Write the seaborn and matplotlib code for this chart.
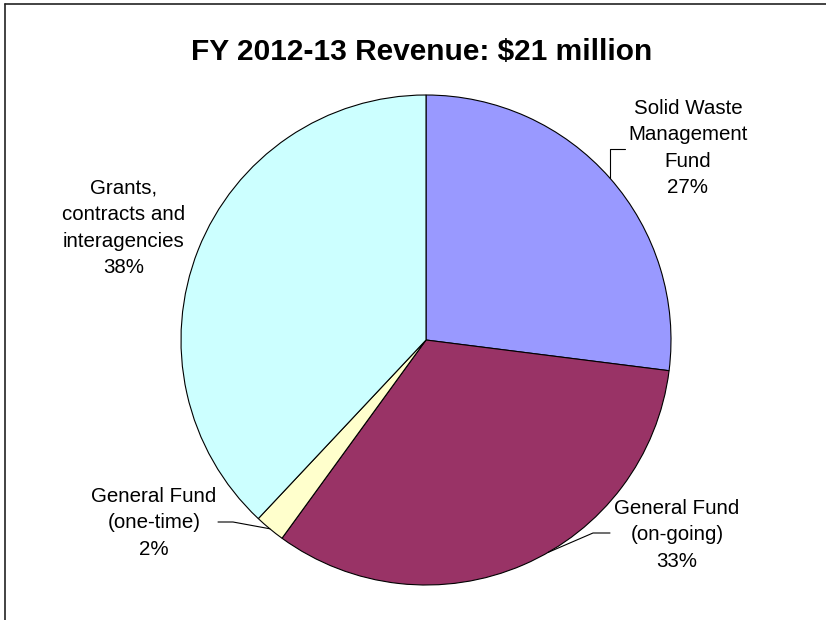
import numpy as np
import matplotlib
matplotlib.use("Agg")
import matplotlib.pyplot as plt
from matplotlib.lines import Line2D
import seaborn as sns

# Revenue shares, clockwise from 12 o'clock
labels = ["Solid Waste\nManagement\nFund", "General Fund\n(on-going)",
          "General Fund\n(one-time)", "Grants,\ncontracts and\ninteragencies"]
shares = [27, 33, 2, 38]
colors = ["#9999FF", "#993366", "#FFFFCC", "#CCFFFF"]
title = "FY 2012-13 Revenue: $21 million"

sns.set_theme(style="white")
plt.rcParams['font.family'] = ['Liberation Sans', 'DejaVu Sans']

W, H = 826, 620
fig = plt.figure(figsize=(W / 100, H / 100), dpi=100)
# axes in pixel units (y up) so layout is easy to place
ax = fig.add_axes([0, 0, 1, 1])
cx, cy, r = 426, H - 340, 245

wedges, _ = ax.pie(shares, colors=colors, startangle=90, counterclock=False,
                   center=(cx, cy), radius=r,
                   wedgeprops=dict(edgecolor="black", linewidth=0.8))
ax.set_xlim(0, W)
ax.set_ylim(0, H)
ax.set_aspect("equal")
ax.axis("off")

# label centre (px, from top), anchor fraction along wedge, elbow points (px, from top)
label_pos = [(688, 148), (677, 535), (154, 523), (124, 228)]
anchor_frac = [0.5, 0.555, 0.5, None]
elbows = [[(609, 149), (625, 149)],
          [(593, 533), (610, 533)],
          [(233, 522), (218, 522)],
          None]

for w, lab, v, pos, fr, elb in zip(wedges, labels, shares, label_pos, anchor_frac, elbows):
    ax.text(pos[0], H - pos[1], f"{lab}\n{v}%", ha="center", va="center",
            fontsize=14.8, linespacing=1.5, color="black")
    if fr is None:
        continue
    ang = np.deg2rad(w.theta1 + fr * (w.theta2 - w.theta1))
    ax_, ay_ = cx + r * np.cos(ang), cy + r * np.sin(ang)
    if elb[0][0] > 590 and elb[0][1] < 200:
        # vertical rise for top-right label
        xs = [ax_, ax_, elb[1][0]]
        ys = [ay_, H - elb[0][1], H - elb[1][1]]
    else:
        xs = [ax_] + [p[0] for p in elb]
        ys = [ay_] + [H - p[1] for p in elb]
    ax.plot(xs, ys, color="black", linewidth=0.8, clip_on=False)

fig.text(422 / W, 1 - 52 / H, title, ha="center", va="center",
         fontsize=21.5, fontweight="bold", color="black")

# chart area frame (top and left edges only visible)
fig.add_artist(Line2D([5 / W, 1], [1 - 4 / H, 1 - 4 / H], color="#222222", linewidth=1.2))
fig.add_artist(Line2D([5 / W, 5 / W], [0, 1 - 4 / H], color="#222222", linewidth=1.2))

fig.savefig("out.png", dpi=100, facecolor="white")
